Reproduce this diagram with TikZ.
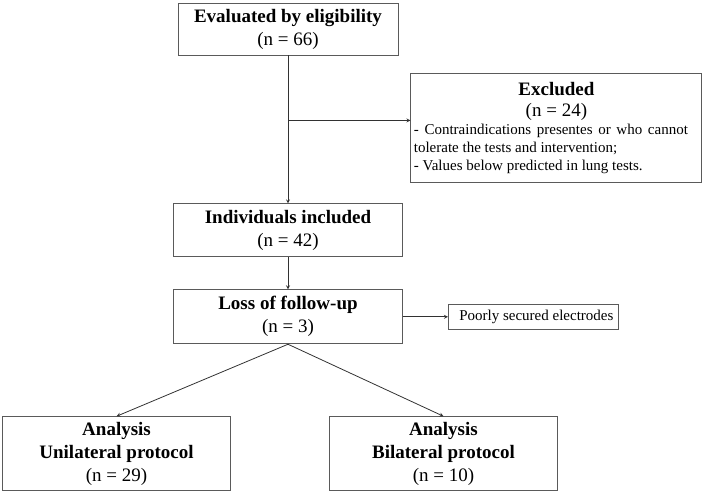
\documentclass[tikz,border=0pt]{standalone}
\usepackage{fontspec}
\setmainfont{Liberation Serif}
\usetikzlibrary{positioning}
\definecolor{boxgray}{RGB}{90,90,90}
\definecolor{linegray}{RGB}{50,50,50}
\setlength{\parindent}{0pt}

\begin{document}
\begin{tikzpicture}[
    node distance=30pt,
    stage/.style={rectangle, draw=boxgray, fill=white, line width=0.9pt,
                  minimum width=229pt, minimum height=53pt, align=center,
                  inner sep=2pt, font=\fontsize{19}{23}\selectfont},
    result/.style={stage, minimum width=228pt, minimum height=74pt},
    reason/.style={rectangle, draw=boxgray, fill=white, line width=0.9pt,
                   minimum width=170pt, minimum height=25pt, inner sep=2pt,
                   font=\fontsize{15}{17}\selectfont},
    exclbox/.style={rectangle, draw=boxgray, fill=white, line width=0.9pt,
                    minimum height=109pt, text width=285pt, inner xsep=3pt,
                    inner ysep=5pt, align=justify, font=\fontsize{15}{18}\selectfont},
    arrow/.style={->, >=stealth, line width=0.8pt, draw=linegray}
]
\useasboundingbox (0,0) rectangle (704pt,-494pt);

% Main flow
\node[stage, minimum width=220pt, minimum height=52pt] (eval) at (288pt,-29pt) {\textbf{Evaluated by eligibility}\\(n = 66)};
\node[stage, below=148pt of eval] (indiv) {\textbf{Individuals included}\\(n = 42)};
\node[stage, below=32pt of indiv, minimum height=54pt] (loss) {\textbf{Loss of follow-up}\\(n = 3)};

% Exclusion
\node[exclbox, below right=18pt and 12pt of eval.south east] (excl) {{\centering\fontsize{19}{21}\selectfont\textbf{Excluded}\\(n = 24)\par}
    \rightskip=11pt
    - Contraindications presentes or who cannot tolerate the tests and intervention;\par
    - Values below predicted in lung tests.};
\node[reason, right=45pt of loss] (poor) {\hspace{6pt}Poorly secured electrodes};

% Analysis groups
\node[result, below left=72pt and 57pt of loss.south] (uni) {\textbf{Analysis}\\\textbf{Unilateral protocol}\\(n = 29)};
\node[result, below right=72pt and 41pt of loss.south] (bi) {\textbf{Analysis}\\\textbf{Bilateral protocol}\\(n = 10)};

% Arrows
\coordinate[below=65pt of eval.south] (branch);
\draw[arrow] (eval) -- (indiv);
\draw[arrow] (branch) -- (branch -| excl.west);
\draw[arrow] (indiv) -- (loss);
\draw[arrow] (loss) -- (poor);
\draw[arrow] (loss.south) -- (uni.north);
\draw[arrow] (loss.south) -- (bi.north);

\end{tikzpicture}
\end{document}
